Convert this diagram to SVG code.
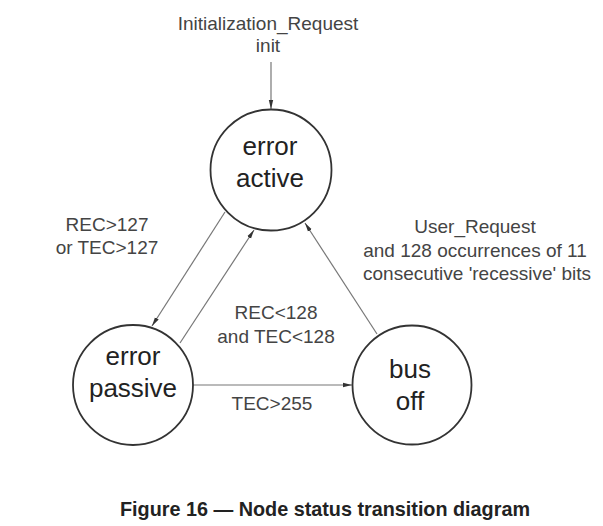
<svg xmlns="http://www.w3.org/2000/svg" width="603" height="526" viewBox="0 0 603 526">
<style>
.node circle{fill:#fff;stroke:#333;stroke-width:1.8}
.state{font-family:"Liberation Sans",Arial,sans-serif;font-size:26px;fill:#222;text-anchor:middle}
.lbl{font-family:"Liberation Sans",Arial,sans-serif;font-size:19px;fill:#444;text-anchor:middle}
.edge{stroke:#777;stroke-width:1.2;fill:none;marker-end:url(#ah)}
.title{font-family:"Liberation Sans",Arial,sans-serif;font-size:19.8px;font-weight:bold;fill:#222}
</style>
<defs>
<marker id="ah" markerUnits="userSpaceOnUse" markerWidth="9" markerHeight="6" refX="9" refY="3" orient="auto">
<path d="M0,0.8 L9,3 L0,5.2 z" fill="#333"/>
</marker>
</defs>
<rect width="603" height="526" fill="#fff"/>
<g id="connectors">
<line class="edge" x1="271" y1="62" x2="271" y2="109"/>
<line class="edge" x1="225" y1="212" x2="152" y2="326"/>
<line class="edge" x1="180" y1="343" x2="254" y2="230"/>
<line class="edge" x1="377" y1="334" x2="305" y2="223"/>
<line class="edge" x1="193" y1="385" x2="352" y2="385"/>
</g>
<g id="labels">
<text class="lbl" x="268" y="30">Initialization_Request</text>
<text class="lbl" x="268" y="52">init</text>
<text class="lbl" x="107" y="231">REC&gt;127</text>
<text class="lbl" x="107" y="254">or TEC&gt;127</text>
<text class="lbl" x="276" y="319">REC&lt;128</text>
<text class="lbl" x="276" y="343">and TEC&lt;128</text>
<text class="lbl" x="272" y="410">TEC&gt;255</text>
<text class="lbl" x="475" y="233">User_Request</text>
<text class="lbl" x="475" y="257">and 128 occurrences of 11</text>
<text class="lbl" x="477" y="280">consecutive 'recessive' bits</text>
</g>
<g id="error-active" class="node">
<circle cx="271" cy="170" r="60.5"/>
<text class="state" x="270" y="155">error</text>
<text class="state" x="270" y="187">active</text>
</g>
<g id="error-passive" class="node">
<circle cx="133" cy="385" r="60"/>
<text class="state" x="133" y="365">error</text>
<text class="state" x="133" y="397">passive</text>
</g>
<g id="bus-off" class="node">
<circle cx="412" cy="385" r="59.5"/>
<text class="state" x="410" y="378">bus</text>
<text class="state" x="410" y="410">off</text>
</g>
<text class="title" x="120" y="516">Figure 16 — Node status transition diagram</text>
</svg>
